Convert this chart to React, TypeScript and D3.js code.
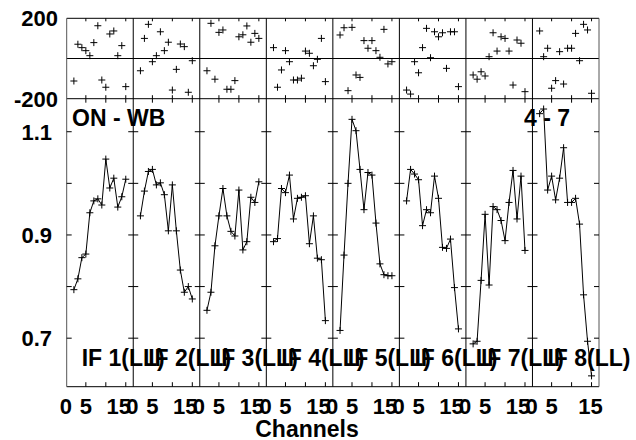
import React from "react";
import * as d3 from "d3";

// channels plotted in every IF panel
const CHANNELS = [2, 3, 4, 5, 6, 7, 8, 9, 10, 11, 12, 13, 14, 15];
const IF_LABELS = ["IF 1(LL)", "IF 2(LL)", "IF 3(LL)", "IF 4(LL)", "IF 5(LL)", "IF 6(LL)", "IF 7(LL)", "IF 8(LL)"];

// phase (degrees), one row per IF
const PHASE_IF1 = [-112, 71, 54, 39, 14, 79, 163, -107, -143, 122, 137, 14, 64, -140];
const PHASE_IF2 = [-61, 100, 170, -16, 14, 133, 39, 81, -157, -54, 72, 59, -168, -11];
const PHASE_IF3 = [-61, 175, -103, 130, 142, -153, -153, -110, 108, 118, 162, 81, 125, 100];
const PHASE_IF4 = [54, -143, -57, 39, -16, -107, -107, -98, 37, 26, -36, -4, 100, -115];
const PHASE_IF5 = [117, 153, -160, 155, -82, -94, 89, 51, 89, 39, 6, 145, -27, -16];
const PHASE_IF6 = [-157, -177, -16, -71, 54, 150, 4, 133, 108, 128, -49, 133, 133, -140];
const PHASE_IF7 = [-82, -103, -66, -87, 9, 128, 37, 108, 100, 37, -132, 92, 76, -165];
const PHASE_IF8 = [137, 9, 51, -148, -110, 34, -127, 51, 51, 125, -11, 170, 142, -173];

// amplitude, one row per IF
const AMP_IF1 = [0.794, 0.815, 0.856, 0.863, 0.943, 0.966, 0.97, 0.958, 1.047, 0.991, 1.01, 0.954, 0.974, 1.008];
const AMP_IF2 = [0.937, 0.985, 1.023, 1.027, 0.997, 1.001, 0.978, 0.908, 0.997, 0.908, 0.832, 0.789, 0.8, 0.776];
const AMP_IF3 = [0.754, 0.789, 0.879, 0.937, 0.99, 0.937, 0.907, 0.898, 0.987, 0.871, 0.887, 0.973, 0.963, 1.003];
const AMP_IF4 = [0.887, 0.893, 0.99, 0.982, 1.016, 0.931, 0.971, 0.973, 0.976, 0.883, 0.937, 0.855, 0.852, 0.734];
const AMP_IF5 = [0.715, 0.861, 1.0, 1.124, 1.102, 1.027, 0.949, 1.021, 1.016, 0.923, 0.844, 0.823, 0.821, 0.821];
const AMP_IF6 = [0.966, 1.027, 1.018, 1.007, 0.918, 0.949, 0.943, 1.014, 0.971, 0.876, 0.874, 0.892, 0.798, 0.718];
const AMP_IF7 = [0.689, 0.694, 0.812, 0.94, 0.803, 0.955, 0.949, 0.928, 0.889, 0.963, 1.025, 0.931, 1.014, 0.87];
const AMP_IF8 = [1.135, 1.144, 0.987, 1.014, 0.968, 1.01, 1.069, 0.963, 0.963, 0.971, 0.921, 0.784, 0.694, 0.627];

const PHASES = [PHASE_IF1, PHASE_IF2, PHASE_IF3, PHASE_IF4, PHASE_IF5, PHASE_IF6, PHASE_IF7, PHASE_IF8];
const AMPS = [AMP_IF1, AMP_IF2, AMP_IF3, AMP_IF4, AMP_IF5, AMP_IF6, AMP_IF7, AMP_IF8];

const X_TICKS = [5, 10, 15];
const X_TICK_LABELS = ["0", "5", "15"];
const AMP_TICKS = [0.7, 0.8, 0.9, 1.0, 1.1];
const AMP_TICK_LABELS = ["0.7", "0.9", "1.1"];

const W = 636;
const H = 440;
const left = 66.7;
const right = 599;
const phaseTop = 18.3;
const phaseBottom = 98.7;
const ampBottom = 386.7;
const FONT = "'Liberation Sans', Arial, Helvetica, sans-serif";

const cross = (x: number, y: number, s = 3.5) =>
  `M${x - s},${y}H${x + s}M${x},${y - s}V${y + s}`;

export default function App() {
  const panelW = (right - left) / PHASES.length;
  const yPhase = d3.scaleLinear().domain([-200, 200]).range([phaseBottom, phaseTop]);
  const yAmp = d3.scaleLinear().domain([0.606, 1.164]).range([ampBottom, phaseBottom]);

  const panels = PHASES.map((ph, i) => {
    const x0 = left + i * panelW;
    const x = d3.scaleLinear().domain([0.2, 16.87]).range([x0, x0 + panelW]);
    const line = d3
      .line<number>()
      .x((_, j) => x(CHANNELS[j]))
      .y((d) => yAmp(d));
    const last = i === PHASES.length - 1;
    return (
      <g key={i}>
        {/* x ticks */}
        {X_TICKS.map((t) => (
          <g key={t} stroke="#000" strokeWidth={1}>
            <line x1={x(t)} x2={x(t)} y1={phaseTop} y2={phaseTop + 3} />
            <line x1={x(t)} x2={x(t)} y1={phaseBottom - 3.5} y2={phaseBottom + 4} />
            <line x1={x(t)} x2={x(t)} y1={ampBottom - 4.5} y2={ampBottom} />
          </g>
        ))}
        {/* amplitude ticks at the panel's left border */}
        {AMP_TICKS.map((t) => (
          <line
            key={t}
            x1={i === 0 ? x0 : x0 - 5}
            x2={x0 + 5}
            y1={yAmp(t)}
            y2={yAmp(t)}
            stroke="#000"
          />
        ))}
        {last &&
          AMP_TICKS.map((t) => (
            <line key={"r" + t} x1={right - 5} x2={right} y1={yAmp(t)} y2={yAmp(t)} stroke="#000" />
          ))}
        {/* phase crosses */}
        {ph.map((p, j) => (
          <path key={j} d={cross(x(CHANNELS[j]), yPhase(p))} stroke="#000" strokeWidth={1} fill="none" />
        ))}
        {/* amplitude line + crosses */}
        <path d={line(AMPS[i]) || ""} fill="none" stroke="#000" strokeWidth={1} />
        {AMPS[i].map((a, j) => (
          <path key={j} d={cross(x(CHANNELS[j]), yAmp(a))} stroke="#000" strokeWidth={1} fill="none" />
        ))}
        {/* x tick labels */}
        {X_TICK_LABELS.map((lab) => {
          const v = +lab;
          const dx = v === 15 ? (last ? -1 : -7) : 0;
          return (
            <text key={lab} x={x(v) + dx} y={414} textAnchor="middle" fontSize={22} fontWeight="bold" fontFamily={FONT}>
              {lab}
            </text>
          );
        })}
        <text x={x0 + 15} y={366} fontSize={23} fontWeight="bold" fontFamily={FONT}>
          {IF_LABELS[i]}
        </text>
      </g>
    );
  });

  return (
    <svg width={W} height={H} style={{ position: "absolute", left: 0, top: 0, background: "#fff" }}>
      <rect width={W} height={H} fill="#fff" />
      {/* frame */}
      <g stroke="#000" strokeWidth={1} fill="none">
        <line x1={left} x2={right} y1={phaseTop} y2={phaseTop} />
        <line x1={left} x2={right} y1={yPhase(0)} y2={yPhase(0)} />
        <line x1={left} x2={right} y1={phaseBottom} y2={phaseBottom} />
        <line x1={left} x2={right} y1={ampBottom} y2={ampBottom} />
        {d3.range(PHASES.length + 1).map((k) => (
          <line
            key={k}
            x1={left + k * panelW}
            x2={left + k * panelW}
            y1={phaseTop}
            y2={ampBottom}
            stroke={k === 0 || k === PHASES.length ? "#555" : "#000"}
          />
        ))}
      </g>
      {panels}
      {/* y labels */}
      <g fontSize={22} fontWeight="bold" fontFamily={FONT} textAnchor="end">
        <text x={58} y={phaseTop + 8}>200</text>
        <text x={58} y={phaseBottom + 8}>-200</text>
        {AMP_TICK_LABELS.map((lab) => (
          <text key={lab} x={52} y={yAmp(+lab) + 8}>
            {lab}
          </text>
        ))}
      </g>
      <text x={72} y={126} fontSize={23} fontWeight="bold" fontFamily={FONT}>
        ON - WB
      </text>
      <text x={524} y={126} fontSize={23} fontWeight="bold" fontFamily={FONT}>
        4 - 7
      </text>
      <text x={307} y={437} textAnchor="middle" fontSize={23} fontWeight="bold" fontFamily={FONT}>
        Channels
      </text>
    </svg>
  );
}
